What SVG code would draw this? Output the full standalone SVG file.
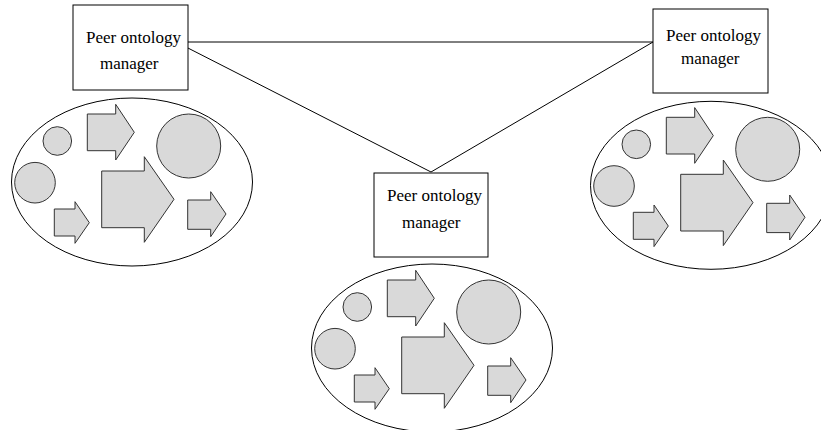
<svg xmlns="http://www.w3.org/2000/svg" xmlns:xlink="http://www.w3.org/1999/xlink" width="821" height="430" viewBox="0 0 821 430">
<style>
.box{fill:#fff;stroke:#000;stroke-width:1}
.lbl{font-family:"Liberation Serif","Times New Roman",serif;font-size:17px;fill:#000}
.conn{stroke:#000;stroke-width:1;fill:none}
.oval{fill:#fff;stroke:#000;stroke-width:1}
.sh{fill:#d9d9d9;stroke:#333;stroke-width:1}
</style>
<defs>
<g id="cluster">
<ellipse class="oval" cx="132" cy="182" rx="120.5" ry="84"/>
<circle class="sh" cx="57.3" cy="141" r="14.3"/>
<circle class="sh" cx="35" cy="182.7" r="20.3"/>
<circle class="sh" cx="188.7" cy="146" r="32"/>
<polygon class="sh" points="87.3,114 115.7,114 115.7,104.3 134.3,132.3 115.7,160 115.7,150.7 87.3,150.7"/>
<polygon class="sh" points="101.7,171 144.3,171 144.3,156.7 174,199.3 144.3,242.3 144.3,227.7 101.7,227.7"/>
<polygon class="sh" points="54.3,209 75,209 75,201.7 89.3,222.7 75,243.3 75,236 54.3,236"/>
<polygon class="sh" points="187.7,200 210.7,200 210.7,191.7 226,214 210.7,236.7 210.7,229.3 187.7,229.3"/>
</g>
</defs>
<g id="connectors">
<line class="conn" x1="188" y1="42" x2="653" y2="42"/>
<line class="conn" x1="184" y1="46" x2="431" y2="172"/>
<line class="conn" x1="653" y1="42" x2="431" y2="172"/>
</g>
<g id="peer-left">
<use xlink:href="#cluster"/>
<rect class="box" x="73" y="5" width="115" height="85"/>
<text class="lbl" x="86" y="43">Peer ontology</text>
<text class="lbl" x="100" y="69">manager</text>
</g>
<g id="peer-right">
<use xlink:href="#cluster" transform="translate(579,3.3)"/>
<rect class="box" x="653" y="9" width="115" height="84"/>
<text class="lbl" x="666" y="41">Peer ontology</text>
<text class="lbl" x="681" y="64">manager</text>
</g>
<g id="peer-bottom">
<use xlink:href="#cluster" transform="translate(300,166)"/>
<rect class="box" x="374" y="173" width="114" height="84"/>
<text class="lbl" x="387" y="201">Peer ontology</text>
<text class="lbl" x="402" y="228">manager</text>
</g>
</svg>
